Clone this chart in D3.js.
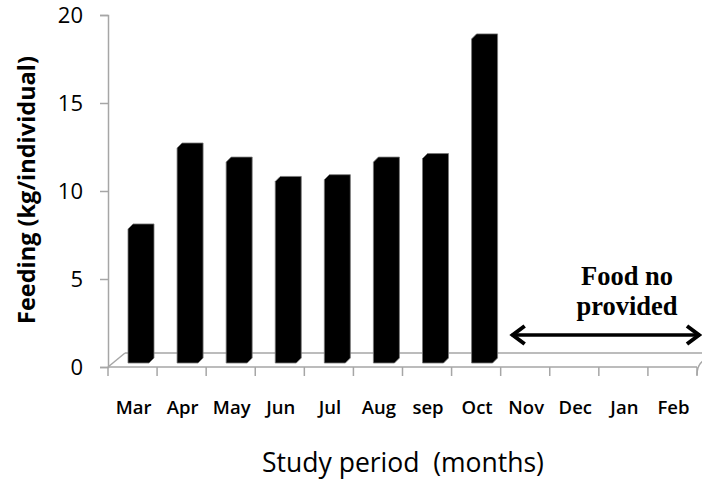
<!DOCTYPE html>
<html>
<head>
<meta charset="utf-8">
<script src="https://cdn.jsdelivr.net/npm/d3@7"></script>
<style>
  html, body { margin: 0; padding: 0; background: #fff; }
  svg { display: block; }
</style>
</head>
<body>
<svg id="chart" width="702" height="479"></svg>
<script>
const months = ["Mar","Apr","May","Jun","Jul","Aug","sep","Oct","Nov","Dec","Jan","Feb"];
const feeding = [7.9, 12.5, 11.7, 10.6, 10.7, 11.7, 11.9, 18.7, null, null, null, null];
const yTicks = [0, 5, 10, 15, 20];
const yTitle = "Feeding (kg/individual)";
const xTitle = "Study period  (months)";
const noteLines = ["Food no", "provided"];

const svg = d3.select("#chart");
const x = d3.scaleBand().domain(months).range([108, 697]).padding(0);
const y = d3.scaleLinear().domain([0, 20]).range([367, 15]);
const grey = "#a6a6a6";
const depth = 4;

// floor / back wall base
svg.append("line").attr("x1", 108).attr("y1", y(0)).attr("x2", 125).attr("y2", y(0) - 14)
  .attr("stroke", grey).attr("stroke-width", 1.5);
svg.append("line").attr("x1", 125).attr("y1", y(0) - 14).attr("x2", 702).attr("y2", y(0) - 14)
  .attr("stroke", grey).attr("stroke-width", 1.5);
svg.append("path").attr("d", `M${x.range()[1]},${y(0)+8} Q${x.range()[1]},${y(0)-2} ${x.range()[1]+6},${y(0)-6}`)
  .attr("fill", "none").attr("stroke", grey).attr("stroke-width", 1.5);

// x axis line + ticks at band edges
svg.append("line").attr("x1", 108).attr("y1", y(0)).attr("x2", x.range()[1]).attr("y2", y(0))
  .attr("stroke", grey).attr("stroke-width", 1.5);
const edges = months.map(m => x(m)).concat([x.range()[1]]);
svg.selectAll(".xt").data(edges).join("line")
  .attr("x1", d => d).attr("x2", d => d)
  .attr("y1", y(0)).attr("y2", y(0) + 9)
  .attr("stroke", grey).attr("stroke-width", 1.5);

// y axis
const yAxis = svg.append("g").attr("transform", "translate(108,0)")
  .call(d3.axisLeft(y).tickValues(yTicks).tickSize(8).tickPadding(17).tickFormat(d3.format("d")));
yAxis.select(".domain").attr("stroke", grey).attr("stroke-width", 1.5);
yAxis.selectAll(".tick line").attr("stroke", grey).attr("stroke-width", 1.5);
yAxis.selectAll(".tick text").attr("font-family", "Open Sans, sans-serif")
  .attr("font-size", 22).attr("fill", "#000").attr("dy", "0.36em");

// bars
const data = months.map((m, i) => ({ m, v: feeding[i] })).filter(d => d.v != null);
const bw = 26, off = 20, c = 5;
svg.selectAll(".bar").data(data).join("path")
  .attr("d", d => {
    const x0 = x(d.m) + off, x1 = x0 + bw;
    const t = y(d.v) - depth, b = y(0) - depth;
    return `M${x0},${t + c}L${x0 + c},${t}L${x1},${t}L${x1},${b - c}L${x1 - c},${b}L${x0},${b}Z`;
  })
  .attr("fill", "#000")
  .attr("stroke", "#777").attr("stroke-width", 0.8);

// x tick labels
svg.selectAll(".xl").data(months).join("text")
  .attr("x", d => x(d) + x.bandwidth() / 2 + 1)
  .attr("y", 414)
  .attr("text-anchor", "middle")
  .attr("font-family", "Open Sans, sans-serif")
  .attr("font-weight", 600)
  .attr("font-size", 18.5)
  .text(d => d);

// axis titles
svg.append("text")
  .attr("transform", "translate(35,190) rotate(-90)")
  .attr("text-anchor", "middle")
  .attr("font-family", "Open Sans, sans-serif")
  .attr("font-weight", "bold")
  .attr("font-size", 23.5)
  .text(yTitle);
svg.append("text")
  .attr("x", 403).attr("y", 472)
  .attr("text-anchor", "middle")
  .attr("font-family", "Open Sans, sans-serif")
  .attr("font-size", 26.5)
  .attr("xml:space", "preserve")
  .style("white-space", "pre")
  .text(xTitle);

// note
svg.selectAll(".note").data(noteLines).join("text")
  .attr("x", 627).attr("y", (d, i) => 285 + i * 30)
  .attr("text-anchor", "middle")
  .attr("font-family", "Liberation Serif, Times New Roman, serif")
  .attr("font-weight", "bold")
  .attr("font-size", 26.5)
  .text(d => d);

// double arrow
const ay = 335, ax0 = x("Nov") + 11, ax1 = 700;
svg.append("line").attr("x1", ax0).attr("y1", ay).attr("x2", ax1).attr("y2", ay)
  .attr("stroke", "#000").attr("stroke-width", 3.5);
svg.append("path").attr("d", `M${ax0 + 13},${ay - 9}L${ax0 + 1},${ay}L${ax0 + 13},${ay + 9}`)
  .attr("fill", "none").attr("stroke", "#000").attr("stroke-width", 4).attr("stroke-linejoin", "miter");
svg.append("path").attr("d", `M${ax1 - 13},${ay - 9}L${ax1 - 1},${ay}L${ax1 - 13},${ay + 9}`)
  .attr("fill", "none").attr("stroke", "#000").attr("stroke-width", 4).attr("stroke-linejoin", "miter");
</script>
</body>
</html>
